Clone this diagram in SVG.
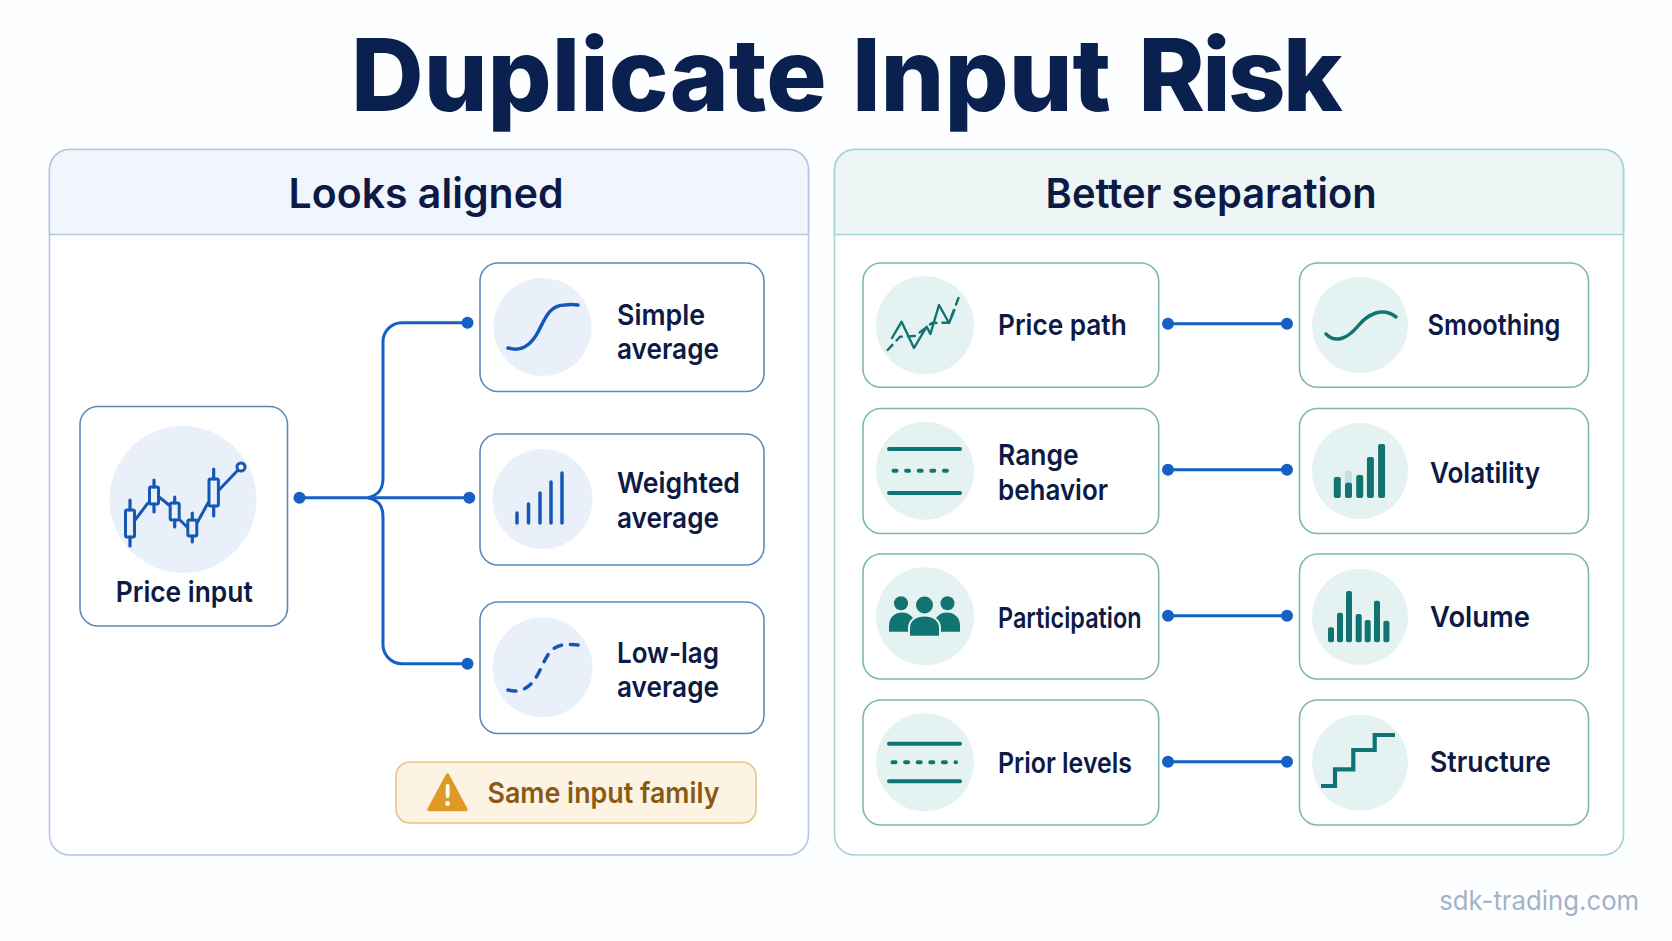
<svg xmlns="http://www.w3.org/2000/svg" width="1672" height="941" viewBox="0 0 1672 941">
<style>
text{font-family:"Inter","Noto Sans","Liberation Sans",sans-serif;fill:#0c1a45;font-weight:600;font-size:29px}
.title{font-size:101px;font-weight:800;fill:#0a2150}
.head{font-size:41px}
.nb{fill:#fff;stroke:#5a8abc;stroke-width:1.6}
.ng{fill:#fff;stroke:#7ab6b6;stroke-width:1.6}
.cb{fill:#e9f0fa}
.cg{fill:#e4f2f1}
.con{fill:none;stroke:#1560c4;stroke-width:3}
.dot{fill:#1560c4}
.ib{fill:none;stroke:#1558b4;stroke-linecap:round;stroke-linejoin:round}
.ig{fill:none;stroke:#127472;stroke-linecap:round;stroke-linejoin:round}
.fg{fill:#127472}
</style>
<rect width="1672" height="941" fill="#fdfeff"/>
<text class="title" x="351" y="110.5" textLength="989" lengthAdjust="spacingAndGlyphs">Duplicate <tspan dx="3.2">Input</tspan> <tspan dx="5.3" style="letter-spacing:-2.7px">Risk</tspan></text>

<g id="panel-left">
<rect x="49.5" y="149.5" width="759" height="705.5" rx="20" fill="#fff" stroke="#b4c8e0" stroke-width="1.6"/>
<path d="M49.5 234.5V169.5a20 20 0 0 1 20-20h719a20 20 0 0 1 20 20v65z" fill="#f1f5fc" stroke="#b4c8e0" stroke-width="1.6"/>
<text class="head" x="288.5" y="208" textLength="275" lengthAdjust="spacingAndGlyphs">Looks aligned</text>
</g>
<g id="panel-right">
<rect x="834.5" y="149.5" width="789" height="705.5" rx="20" fill="#fff" stroke="#a6d3d3" stroke-width="1.6"/>
<path d="M834.5 234.5V169.5a20 20 0 0 1 20-20h749a20 20 0 0 1 20 20v65z" fill="#edf6f5" stroke="#a6d3d3" stroke-width="1.6"/>
<text class="head" x="1045.6" y="208" textLength="331" lengthAdjust="spacingAndGlyphs">Better separation</text>
</g>

<g id="connectors">
<path class="con" d="M299 497.7H469.3"/>
<path class="con" d="M368 497.7C378 495 383 490 383 478V342a19 19 0 0 1 19-19.3H467"/>
<path class="con" d="M368 497.7C378 500 383 505 383 517V644a19 19 0 0 0 19 19.7H467"/>
<circle class="dot" cx="299.5" cy="497.7" r="6"/><circle class="dot" cx="469.3" cy="497.7" r="6"/><circle class="dot" cx="467.5" cy="322.7" r="6"/><circle class="dot" cx="467.5" cy="663.7" r="6"/>
<path class="con" d="M1168 323.7H1287M1168 469.7H1287M1168 615.7H1287M1168 761.7H1287"/>
<g class="dot"><circle cx="1168" cy="323.7" r="6"/><circle cx="1287" cy="323.7" r="6"/><circle cx="1168" cy="469.7" r="6"/><circle cx="1287" cy="469.7" r="6"/><circle cx="1168" cy="615.7" r="6"/><circle cx="1287" cy="615.7" r="6"/><circle cx="1168" cy="761.7" r="6"/><circle cx="1287" cy="761.7" r="6"/></g>
</g>

<g id="price-input">
<rect class="nb" x="80" y="406.5" width="207.5" height="219.5" rx="18"/>
<circle class="cb" cx="183" cy="499.5" r="73.5"/>
<g class="ib" stroke-width="3">
<path d="M135 520L148 503M159 497L169 505M180 520L187 527M197 523L208 503M219 490L238 470"/>
<path stroke-width="3.2" d="M130 500V510M130 537V546M154 480V487M154 504V512M174.7 497V503M174.7 520V527M192.3 513V520M192.3 536V542M213.7 469V479M213.7 506V516"/>
<rect x="125.5" y="510" width="9" height="27" rx="1.5"/><rect x="149.5" y="487" width="9" height="17" rx="1.5"/><rect x="170.2" y="503" width="9" height="17" rx="1.5"/><rect x="187.8" y="520" width="9" height="16" rx="1.5"/><rect x="209" y="479" width="9.4" height="27" rx="1.5"/>
<circle cx="241" cy="467" r="4" fill="#fff"/>
</g>
<text x="115.7" y="602" textLength="137" lengthAdjust="spacingAndGlyphs">Price input</text>
</g>

<g id="simple-average">
<rect class="nb" x="480" y="263" width="284" height="128.5" rx="18"/>
<circle class="cb" cx="542.5" cy="327" r="49"/>
<path class="ib" stroke-width="3.5" d="M508 348C521 352 531 345 538 332C545 319 549 305 565 305Q571 304 578 305"/>
<text x="617" y="325" textLength="88" lengthAdjust="spacingAndGlyphs">Simple</text>
<text x="617" y="359" textLength="102" lengthAdjust="spacingAndGlyphs">average</text>
</g>
<g id="weighted-average">
<rect class="nb" x="480" y="434" width="284" height="131" rx="18"/>
<circle class="cb" cx="542.5" cy="499" r="50"/>
<path class="ib" stroke-width="3.5" d="M517 523V513M528.5 523V504M540 523V493M551 523V482M562 523V473"/>
<text x="617" y="493" textLength="123" lengthAdjust="spacingAndGlyphs">Weighted</text>
<text x="617" y="527.5" textLength="102" lengthAdjust="spacingAndGlyphs">average</text>
</g>
<g id="low-lag-average">
<rect class="nb" x="480" y="602" width="284" height="131.5" rx="18"/>
<circle class="cb" cx="542.5" cy="667.3" r="50"/>
<path class="ib" stroke-width="3.5" stroke-dasharray="8 9" d="M508 690C521 694 531 687 538 674C545 661 549 645 565 645Q571 644 578 645"/>
<text x="617" y="663" textLength="102" lengthAdjust="spacingAndGlyphs">Low-lag</text>
<text x="617" y="697" textLength="102" lengthAdjust="spacingAndGlyphs">average</text>
</g>
<g id="same-input-family">
<rect x="396" y="762" width="360" height="61" rx="14" fill="#fdf3e3" stroke="#eac27f" stroke-width="1.6"/>
<path d="M447.5 775L466 809.5H429Z" fill="#df9a26" stroke="#df9a26" stroke-width="3.5" stroke-linejoin="round"/>
<rect x="445.7" y="784" width="3.8" height="14" rx="1.9" fill="#fff"/><circle cx="447.6" cy="803.5" r="2.4" fill="#fff"/>
<text x="487.5" y="803" textLength="232" lengthAdjust="spacingAndGlyphs" style="fill:#8a5a14">Same input family</text>
</g>

<g id="price-path">
<rect class="ng" x="863" y="263" width="295.7" height="124.3" rx="18"/>
<circle class="cg" cx="925" cy="325.3" r="49"/>
<path class="ig" stroke-width="2.4" d="M892 338L901.6 321.7L914 348L926.7 326.7L930.4 334L939 305L949 323L954.4 310"/>
<path class="ig" stroke-width="2.4" stroke-dasharray="7 6" d="M887.7 350L900 336.7L915 336L932 323L949 322.7L959.7 295"/>
<text x="998" y="335" textLength="128.7" lengthAdjust="spacingAndGlyphs">Price path</text>
</g>
<g id="smoothing">
<rect class="ng" x="1299.5" y="263" width="289" height="124.3" rx="18"/>
<circle class="cg" cx="1360" cy="325" r="48"/>
<path class="ig" stroke-width="3.5" d="M1326 334C1336 344 1348 338 1358 326C1367 315 1382 306 1396 317"/>
<text x="1427.5" y="335" textLength="133" lengthAdjust="spacingAndGlyphs">Smoothing</text>
</g>
<g id="range-behavior">
<rect class="ng" x="863" y="408.5" width="295.7" height="125" rx="18"/>
<circle class="cg" cx="925" cy="470.7" r="49"/>
<path class="ig" stroke-width="4" d="M889 449H960M889 493H960"/>
<path class="ig" stroke-width="4" stroke-dasharray="3 9.6" d="M893.5 470.7H956"/>
<text x="998" y="465" textLength="80.7" lengthAdjust="spacingAndGlyphs">Range</text>
<text x="998" y="500" textLength="110" lengthAdjust="spacingAndGlyphs">behavior</text>
</g>
<g id="volatility">
<rect class="ng" x="1299.5" y="408.5" width="289" height="125" rx="18"/>
<circle class="cg" cx="1360" cy="471" r="48"/>
<rect x="1345" y="470.7" width="7" height="27.3" rx="2" fill="#bfe0dc"/>
<g class="fg"><rect x="1333.8" y="477" width="7" height="21" rx="2"/><rect x="1345" y="482.7" width="7" height="15.3" rx="2"/><rect x="1356.2" y="475" width="7" height="23" rx="2"/><rect x="1366.9" y="457" width="7" height="41" rx="2"/><rect x="1378.1" y="444" width="7" height="54" rx="2"/></g>
<text x="1430" y="483" textLength="110" lengthAdjust="spacingAndGlyphs">Volatility</text>
</g>
<g id="participation">
<rect class="ng" x="863" y="554" width="295.7" height="125" rx="18"/>
<circle class="cg" cx="925" cy="616.3" r="49"/>
<g class="fg"><circle cx="901" cy="603.3" r="7"/><circle cx="947.5" cy="603.3" r="7"/><circle cx="924.5" cy="605" r="8.5"/>
<path d="M889 631.7V626C889 617 895 612.5 902 612.5C909 612.5 915 617 915 626V631.7Z"/>
<path d="M934 631.7V626C934 617 940 612.5 947 612.5C954 612.5 960 617 960 626V631.7Z"/>
<path d="M909 636.7V628C909 620 916 615.5 924.5 615.5C933 615.5 940 620 940 628V636.7Z" stroke="#e4f2f1" stroke-width="2"/></g>
<text x="998" y="627.5" textLength="143.6" lengthAdjust="spacingAndGlyphs">Participation</text>
</g>
<g id="volume">
<rect class="ng" x="1299.5" y="554" width="289" height="125" rx="18"/>
<circle class="cg" cx="1360" cy="616.7" r="48"/>
<g class="fg"><rect x="1328" y="627.3" width="6" height="15" rx="2"/><rect x="1337" y="612.7" width="6" height="29.6" rx="2"/><rect x="1346" y="591" width="6" height="51.3" rx="2"/><rect x="1355.7" y="614" width="6" height="28.3" rx="2"/><rect x="1364.7" y="620" width="6" height="22.3" rx="2"/><rect x="1374" y="600.7" width="6" height="41.6" rx="2"/><rect x="1383.4" y="620.7" width="6" height="21.6" rx="2"/></g>
<text x="1430" y="627" textLength="100" lengthAdjust="spacingAndGlyphs">Volume</text>
</g>
<g id="prior-levels">
<rect class="ng" x="863" y="700" width="295.7" height="125" rx="18"/>
<circle class="cg" cx="925" cy="762.3" r="49"/>
<path class="ig" stroke-width="4" d="M889 743.7H960M889 781.3H960"/>
<path class="ig" stroke-width="4" stroke-dasharray="3 9.6" d="M892.5 762.3H956"/>
<text x="998" y="773" textLength="134" lengthAdjust="spacingAndGlyphs">Prior levels</text>
</g>
<g id="structure">
<rect class="ng" x="1299.5" y="700" width="289" height="125" rx="18"/>
<circle class="cg" cx="1360" cy="762.7" r="48"/>
<path d="M1321 786H1335V769.3H1353.3V750H1374.7V735H1395" fill="none" stroke="#127472" stroke-width="4.2"/>
<text x="1430" y="772" textLength="120.7" lengthAdjust="spacingAndGlyphs">Structure</text>
</g>
<text x="1439.2" y="910" textLength="200" lengthAdjust="spacingAndGlyphs" style="fill:#a3b2c9;font-weight:400;font-size:27px">sdk-trading.com</text>
</svg>
